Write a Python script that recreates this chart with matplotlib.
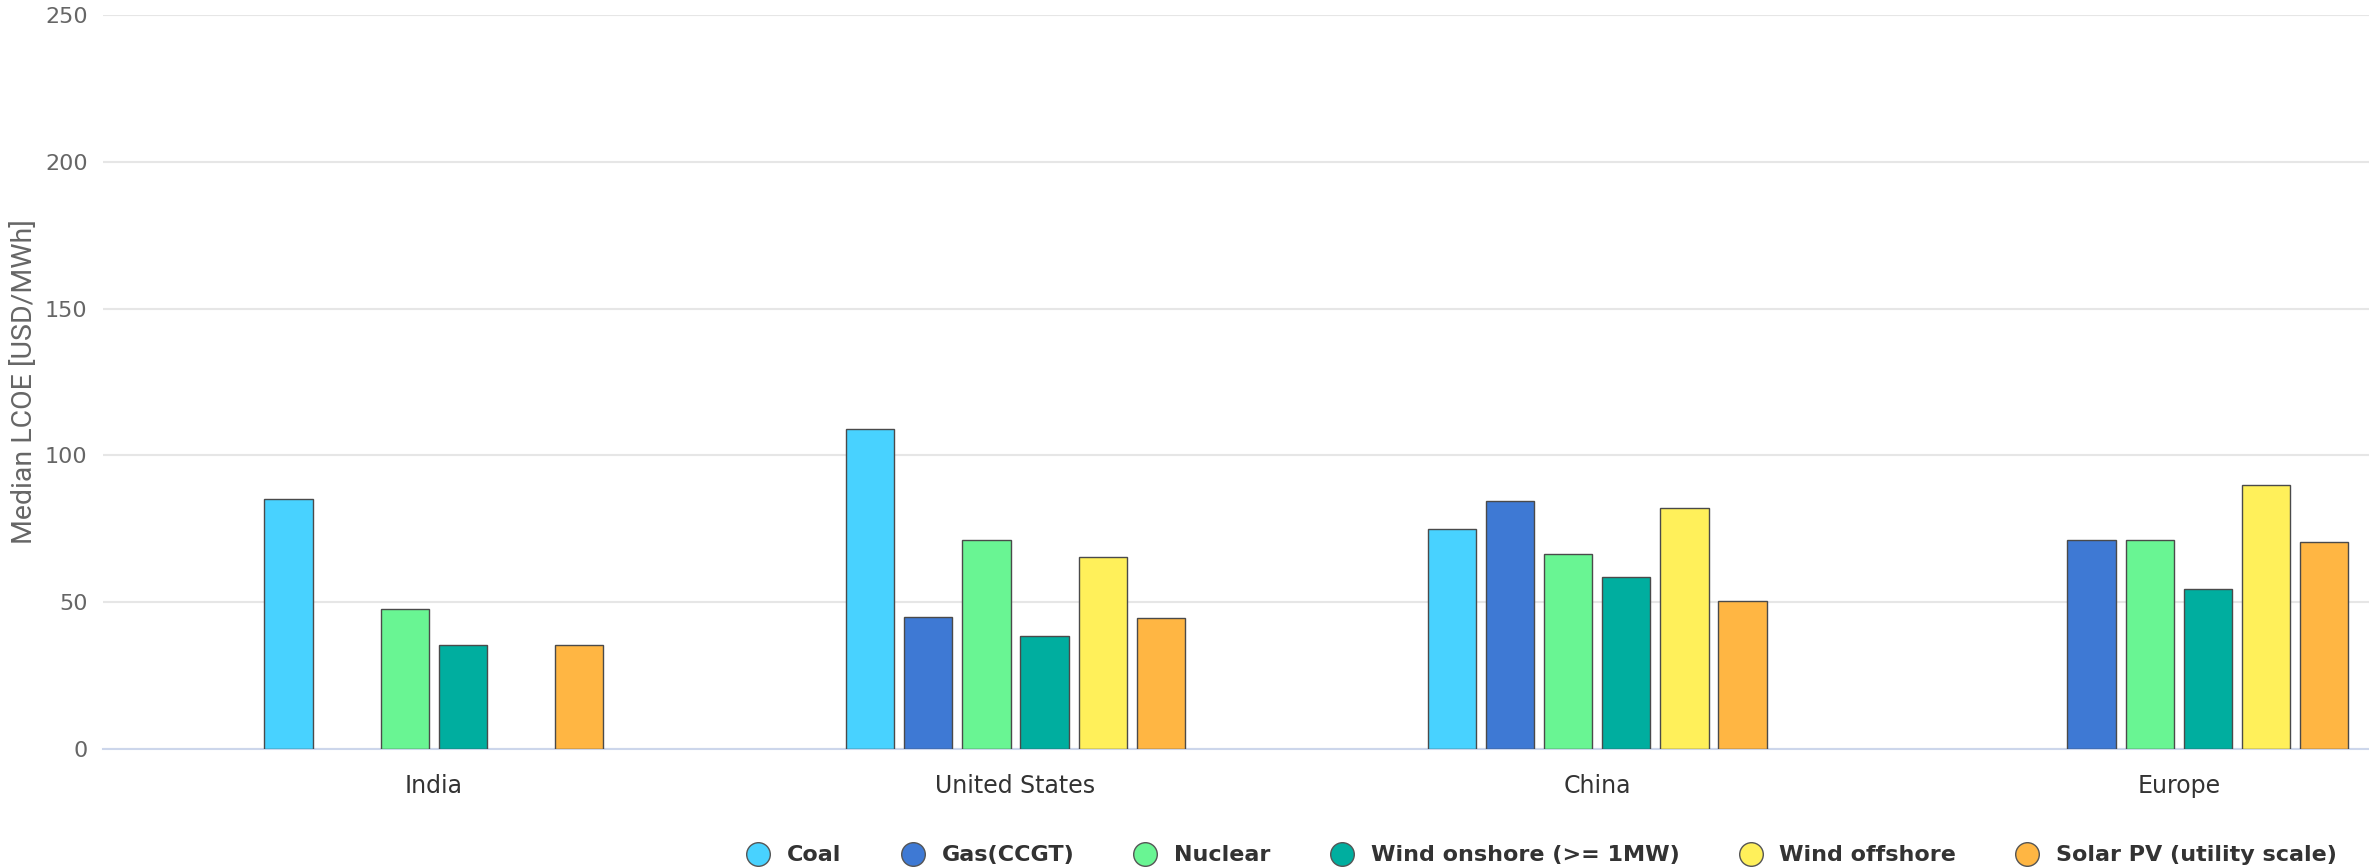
import numpy as np
import matplotlib.pyplot as plt
from matplotlib.lines import Line2D

regions = ['India', 'United States', 'China', 'Europe']
techs = ['Coal', 'Gas(CCGT)', 'Nuclear', 'Wind onshore (>= 1MW)', 'Wind offshore', 'Solar PV (utility scale)']
colors = ['#48d2ff', '#3e79d4', '#69f593', '#00ae9f', '#fff05a', '#ffb643']

# median LCOE per region, USD/MWh (nan = no data)
coal = [85, 109, 75, np.nan]
gas = [np.nan, 45, 84.5, 71]
nuclear = [47.5, 71, 66.5, 71]
wind_on = [35.5, 38.5, 58.5, 54.5]
wind_off = [np.nan, 65.5, 82, 90]
solar = [35.5, 44.5, 50.5, 70.5]

series = [coal, gas, nuclear, wind_on, wind_off, solar]

fig = plt.figure(figsize=(23.69, 8.68), dpi=100)
ax = fig.add_axes([0.0434, 0.1374, 0.9566, 0.8452])

x = np.arange(len(regions))
slot = 0.1
w = 0.083
for i, vals in enumerate(series):
    ax.bar(x + (i - 2.5) * slot, vals, width=w, color=colors[i],
           edgecolor='#4a4a4a', linewidth=1.0, zorder=3)

ax.set_ylim(0, 250)
ax.set_xlim(-0.569, 3.327)
ax.set_yticks([0, 50, 100, 150, 200, 250])
ax.yaxis.grid(True, color='#e6e6e6', linewidth=1.5, zorder=0)
ax.set_axisbelow(True)
for s in ['top', 'right', 'left']:
    ax.spines[s].set_visible(False)
ax.spines['bottom'].set_color('#ccd6eb')
ax.spines['bottom'].set_linewidth(1.5)

ax.set_xticks(x)
ax.set_xticklabels(regions, fontsize=17, color='#333333')
ax.tick_params(axis='x', length=0, pad=18)
ax.tick_params(axis='y', length=0, pad=11, labelsize=16, labelcolor='#666666')

ax.set_ylabel('Median LCOE [USD/MWh]', fontsize=20.5, color='#666666',
              family=['Liberation Sans Narrow', 'Roboto', 'DejaVu Sans'])
ax.yaxis.set_label_coords(-0.0285, 0.5)

handles = [Line2D([0], [0], marker='o', linestyle='', markersize=17,
                  markerfacecolor=c, markeredgecolor='#555555', markeredgewidth=1)
           for c in colors]
leg = fig.legend(handles, techs, loc='lower right', bbox_to_anchor=(0.995, -0.02),
                 ncol=6, frameon=False, handletextpad=0.3, columnspacing=2.2,
                 prop={'size': 16, 'weight': 'bold'})
for t in leg.get_texts():
    t.set_color('#333333')

fig.savefig('out.png', dpi=100)
